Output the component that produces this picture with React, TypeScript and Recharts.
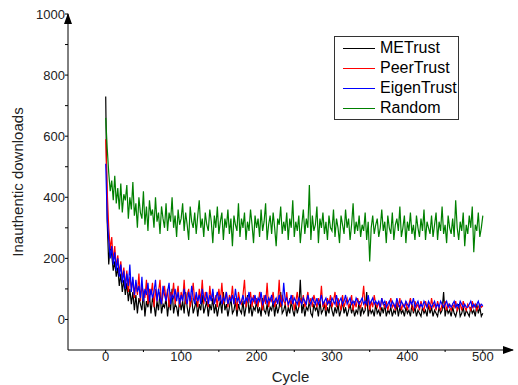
import { LineChart, Line, XAxis, YAxis } from 'recharts';

const seriesNames = ['METrust', 'PeerTrust', 'EigenTrust', 'Random'];
const seriesColors = ['#000000', '#ff0000', '#0000ff', '#008000'];

// x positions: one sample every 2 cycles, 0..500
const cycles = Array.from({ length: 251 }, (_, i) => i * 2);
const xTicks = [0, 50, 100, 150, 200, 250, 300, 350, 400, 450, 500];
const yTicks = [0, 100, 200, 300, 400, 500, 600, 700, 800, 900, 1000];

const meTrust = [
  730, 320, 180, 250, 210, 160, 190, 140, 170, 110,
  150, 90, 130, 80, 120, 60, 100, 50, 90, 30,
  80, 20, 70, 50, 30, 90, 10, 60, 40, 80,
  20, 70, 50, 10, 60, 30, 90, 20, 50, 40,
  70, 10, 60, 30, 100, 20, 50, 40, 10, 70,
  30, 60, 20, 90, 40, 10, 50, 70, 20, 40,
  60, 10, 50, 30, 80, 20, 40, 60, 10, 50,
  30, 70, 20, 50, 10, 40, 60, 20, 90, 30,
  50, 10, 40, 70, 20, 30, 60, 10, 50, 30,
  20, 60, 10, 40, 80, 20, 50, 10, 40, 30,
  60, 20, 40, 10, 70, 30, 20, 50, 10, 40,
  30, 60, 10, 50, 20, 40, 90, 20, 30, 50,
  10, 40, 20, 60, 30, 10, 50, 20, 40, 130,
  20, 50, 10, 40, 30, 60, 20, 10, 50, 30,
  40, 10, 60, 20, 30, 50, 10, 40, 20, 60,
  30, 10, 40, 20, 50, 10, 30, 60, 20, 40,
  10, 30, 50, 20, 40, 10, 30, 20, 60, 10,
  40, 20, 30, 90, 10, 40, 20, 30, 10, 50,
  20, 30, 10, 40, 20, 50, 10, 30, 20, 40,
  10, 30, 20, 50, 10, 40, 20, 30, 10, 40,
  20, 30, 10, 50, 20, 40, 10, 30, 20, 10,
  40, 20, 30, 10, 50, 20, 40, 10, 30, 20,
  10, 40, 20, 30, 90, 10, 40, 20, 30, 10,
  40, 20, 10, 30, 50, 10, 20, 40, 10, 30,
  20, 10, 40, 20, 30, 10, 50, 20, 40, 10,
  20,
];

const peerTrust = [
  590, 420, 300, 230, 270, 190, 240, 170, 210, 150,
  190, 130, 170, 110, 160, 90, 140, 100, 130, 70,
  120, 80, 150, 60, 110, 90, 70, 130, 50, 100,
  80, 120, 40, 100, 60, 90, 130, 50, 80, 110,
  60, 100, 40, 90, 70, 120, 50, 80, 110, 40,
  90, 60, 130, 50, 80, 100, 40, 70, 120, 60,
  80, 40, 100, 60, 130, 50, 90, 70, 40, 110,
  60, 90, 50, 80, 40, 100, 60, 120, 50, 70,
  90, 40, 80, 60, 110, 50, 70, 30, 90, 60,
  50, 80, 130, 40, 70, 60, 90, 40, 80, 50,
  70, 40, 90, 60, 30, 80, 50, 120, 40, 70,
  60, 90, 40, 70, 50, 130, 40, 80, 60, 50,
  90, 40, 70, 50, 80, 30, 60, 90, 40, 70,
  50, 80, 40, 60, 90, 50, 70, 40, 80, 60,
  40, 70, 50, 110, 40, 60, 30, 70, 50, 80,
  40, 60, 90, 40, 70, 50, 30, 80, 40, 60,
  70, 40, 50, 80, 30, 60, 40, 70, 50, 40,
  60, 110, 40, 50, 70, 30, 60, 40, 80, 50,
  40, 60, 30, 70, 50, 40, 60, 30, 50, 70,
  40, 50, 30, 60, 40, 70, 30, 50, 40, 60,
  30, 50, 70, 40, 30, 60, 40, 50, 30, 60,
  40, 30, 60, 40, 50, 30, 70, 40, 50, 30,
  60, 40, 30, 50, 40, 60, 30, 50, 40, 30,
  50, 40, 60, 30, 40, 50, 30, 60, 40, 30,
  50, 40, 30, 60, 40, 50, 30, 40, 50, 40,
  45,
];

const eigenTrust = [
  510, 330, 260, 200, 240, 180, 220, 160, 200, 140,
  180, 120, 160, 100, 150, 110, 180, 90, 140, 80,
  130, 90, 110, 70, 140, 60, 100, 80, 120, 60,
  100, 70, 90, 130, 60, 100, 70, 50, 110, 80,
  60, 90, 120, 50, 80, 70, 100, 60, 90, 50,
  80, 60, 100, 70, 50, 90, 60, 110, 70, 50,
  90, 60, 80, 50, 100, 70, 60, 90, 50, 80,
  60, 100, 50, 70, 90, 60, 80, 50, 70, 60,
  90, 50, 70, 60, 80, 50, 100, 60, 70, 50,
  60, 80, 50, 70, 60, 90, 50, 70, 60, 80,
  50, 70, 60, 90, 50, 60, 80, 50, 70, 60,
  80, 50, 60, 70, 50, 80, 60, 50, 120, 60,
  70, 50, 60, 80, 50, 70, 60, 50, 70, 60,
  50, 70, 60, 50, 80, 60, 50, 70, 60, 50,
  70, 50, 60, 80, 50, 60, 70, 50, 60, 50,
  70, 60, 50, 80, 50, 60, 70, 50, 60, 80,
  50, 60, 70, 50, 60, 50, 70, 60, 50, 60,
  70, 50, 60, 50, 80, 50, 60, 70, 50, 60,
  50, 60, 40, 70, 50, 60, 40, 50, 60, 40,
  60, 50, 40, 70, 50, 40, 60, 50, 40, 60,
  50, 40, 60, 50, 70, 40, 50, 60, 40, 50,
  40, 60, 50, 40, 60, 50, 40, 50, 60, 40,
  50, 40, 60, 50, 40, 50, 60, 40, 50, 40,
  50, 60, 40, 50, 40, 60, 50, 40, 50, 40,
  40, 50, 60, 40, 50, 40, 50, 60, 40, 50,
  45,
];

const random = [
  660, 560, 480, 420, 455, 390, 470, 380, 430, 360,
  445, 350, 410, 390, 440, 330, 400, 360, 450, 340,
  380, 300, 400, 350, 330, 420, 310, 370, 290, 390,
  340, 360, 300, 400, 320, 350, 280, 370, 330, 300,
  380, 290, 350, 320, 400, 300, 340, 270, 360, 310,
  330, 380, 290, 350, 310, 260, 370, 320, 300, 350,
  280, 340, 390, 300, 330, 270, 350, 310, 290, 360,
  320, 250, 340, 300, 370, 280, 320, 350, 260, 330,
  300, 360, 280, 330, 240, 340, 310, 290, 380, 270,
  330, 300, 350, 260, 320, 290, 360, 310, 250, 340,
  300, 330, 270, 360, 290, 320, 380, 260, 310, 340,
  280, 350, 300, 240, 330, 310, 370, 280, 320, 290,
  350, 260, 330, 300, 390, 270, 320, 290, 340, 250,
  310, 360, 280, 330, 300, 440, 260, 340, 290, 310,
  370, 250, 330, 300, 350, 280, 320, 260, 340, 300,
  290, 360, 270, 330, 300, 250, 340, 310, 280, 360,
  300, 330, 260, 310, 380, 280, 320, 290, 340, 270,
  310, 290, 350, 260, 320, 190, 300, 340, 280, 310,
  330, 270, 300, 360, 290, 320, 250, 340, 300, 280,
  350, 260, 310, 330, 290, 370, 270, 300, 340, 250,
  320, 290, 350, 280, 310, 260, 340, 300, 270, 330,
  290, 360, 260, 320, 300, 280, 340, 270, 310, 350,
  260, 320, 290, 370, 280, 310, 250, 340, 300, 280,
  330, 270, 390, 300, 260, 320, 290, 350, 240, 310,
  280, 340, 300, 370, 220, 310, 290, 350, 270, 300,
  340,
];

const seriesValues = [meTrust, peerTrust, eigenTrust, random];

const data = cycles.map((cycle, i) => {
  const row: Record<string, number> = { cycle };
  seriesNames.forEach((name, s) => {
    row[name] = seriesValues[s][i];
  });
  return row;
});

const W = 518;
const H = 385;
const PLOT_LEFT = 68;
const PLOT_RIGHT = 513;
const PLOT_TOP = 14;
const PLOT_BOTTOM = 350;
const FONT = '"Liberation Sans", Arial, sans-serif';

const ChartLegend = () => (
  <div
    style={{
      position: 'absolute',
      left: 334,
      top: 36,
      boxSizing: 'border-box',
      width: 125,
      border: '1px solid #333',
      background: '#fff',
      padding: '1px 0',
      fontFamily: FONT,
      fontSize: 16,
      lineHeight: '20px',
      color: '#000',
    }}
  >
    {seriesNames.map((name, i) => (
      <div key={name} style={{ display: 'flex', alignItems: 'center', height: 20 }}>
        <div
          style={{
            width: 32,
            height: 0,
            borderTop: `1px solid ${seriesColors[i]}`,
            marginLeft: 8,
            marginRight: 5,
          }}
        />
        <span>{name}</span>
      </div>
    ))}
  </div>
);

const renderYLabel = (props: any) => {
  const vb = props && props.viewBox ? props.viewBox : { x: 0, y: PLOT_TOP, height: PLOT_BOTTOM - PLOT_TOP };
  const cx = 17;
  const cy = vb.y + vb.height / 2;
  return (
    <text
      x={cx}
      y={cy}
      transform={`rotate(-90, ${cx}, ${cy})`}
      textAnchor="middle"
      dominantBaseline="central"
      fontFamily={FONT}
      fontSize={15}
      fill="#222"
    >
      Inauthentic downloads
    </text>
  );
};

export default function App() {
  return (
    <div style={{ position: 'absolute', left: 0, top: 0, width: W, height: H, background: '#fff' }}>
      <LineChart
        width={W}
        height={H}
        data={data}
        margin={{ top: PLOT_TOP, right: W - PLOT_RIGHT, bottom: 0, left: 0 }}
      >
        <XAxis
          dataKey="cycle"
          type="number"
          domain={[-50, 540]}
          ticks={xTicks}
          allowDataOverflow
          height={H - PLOT_BOTTOM}
          tickSize={2}
          tickMargin={0}
          tickFormatter={(v: number) => (v % 100 === 0 ? String(v) : '')}
          tick={{ fontSize: 13, fill: '#222', fontFamily: FONT }}
          axisLine={{ stroke: '#000' }}
          tickLine={{ stroke: '#000' }}
          label={{ value: 'Cycle', position: 'insideBottom', offset: 3, fontSize: 15, fill: '#222', fontFamily: FONT }}
        />
        <YAxis
          type="number"
          domain={[-100, 1000]}
          ticks={yTicks}
          allowDataOverflow
          width={PLOT_LEFT}
          tickSize={3}
          tickMargin={0}
          tickFormatter={(v: number) => (v % 200 === 0 ? String(v) : '')}
          tick={{ fontSize: 13, fill: '#222', fontFamily: FONT }}
          axisLine={{ stroke: '#000' }}
          tickLine={{ stroke: '#000' }}
          label={renderYLabel}
        />
        {seriesNames.map((name, i) => (
          <Line
            key={name}
            type="linear"
            dataKey={name}
            stroke={seriesColors[i]}
            strokeWidth={1.2}
            dot={false}
            isAnimationActive={false}
          />
        ))}
      </LineChart>
      <ChartLegend />
      <svg
        width={W}
        height={H}
        style={{ position: 'absolute', left: 0, top: 0, pointerEvents: 'none' }}
      >
        <polygon
          points={`${PLOT_LEFT},${PLOT_TOP - 1} ${PLOT_LEFT - 4},${PLOT_TOP + 10} ${PLOT_LEFT + 4},${PLOT_TOP + 10}`}
          fill="#000"
        />
        <polygon
          points={`${PLOT_RIGHT + 1},${PLOT_BOTTOM} ${PLOT_RIGHT - 10},${PLOT_BOTTOM - 4} ${PLOT_RIGHT - 10},${PLOT_BOTTOM + 4}`}
          fill="#000"
        />
      </svg>
    </div>
  );
}
